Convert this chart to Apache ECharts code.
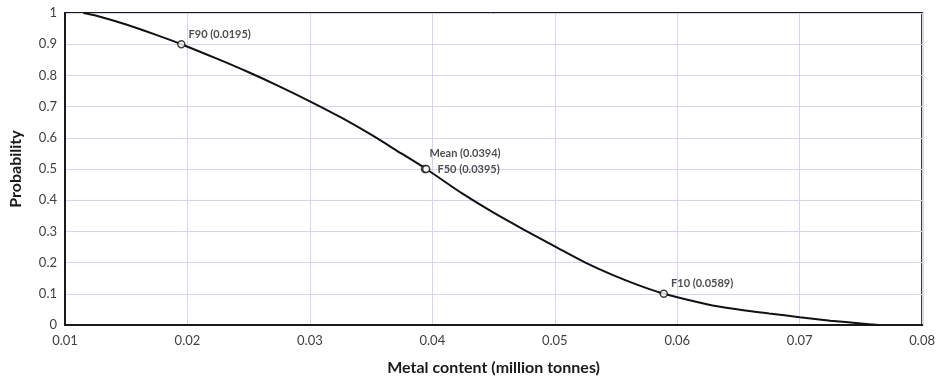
<!DOCTYPE html>
<html><head><meta charset="utf-8">
<script src="https://cdn.jsdelivr.net/npm/echarts@6/dist/echarts.min.js"></script>
<style>html,body{margin:0;padding:0;background:#fff}#c{width:938px;height:383px}</style>
</head><body><div id="c"></div>
<script>
const curveX = [0.0115,0.0125,0.015,0.0175,0.0195,0.0225,0.025,0.0275,0.03,0.0325,0.035,0.0375,0.0395,0.0425,0.045,0.0475,0.05,0.0525,0.055,0.0575,0.0589,0.0625,0.065,0.0675,0.07,0.0725,0.075,0.0765];
const curveY = [1.0,0.992,0.963,0.929,0.9,0.852,0.81,0.765,0.717,0.666,0.61,0.549,0.5,0.42,0.36,0.305,0.252,0.2,0.156,0.118,0.1,0.066,0.05,0.037,0.025,0.014,0.005,0.0];
const pointNames = ['F90','Mean','F50','F10'];
const pointX = [0.0195,0.0394,0.0395,0.0589];
const pointY = [0.9,0.5,0.5,0.1];
const xTicks = [0.01,0.02,0.03,0.04,0.05,0.06,0.07,0.08];
const yTicks = [0,0.1,0.2,0.3,0.4,0.5,0.6,0.7,0.8,0.9,1];

const labelPos = {
  'F90': {position:'right', offset:[-2,-10]},
  'Mean': {position:'top', offset:[40,-1]},
  'F50': {position:'right', offset:[2,0]},
  'F10': {position:'right', offset:[-2,-10]}
};
const font = 'Lato, "Open Sans", sans-serif';
const chart = echarts.init(document.getElementById('c'), null, {renderer:'canvas'});
chart.setOption({
  animation:false,
  backgroundColor:'#ffffff',
  grid:{left:64,right:15,top:13,bottom:58,show:true,borderColor:'#1a1a1a',borderWidth:2,backgroundColor:'transparent'},
  xAxis:{type:'value',min:0.01,max:0.08,interval:0.01,
    name:'Metal content (million tonnes)',nameLocation:'middle',nameGap:35,
    nameTextStyle:{fontFamily:font,fontWeight:'bold',fontSize:16,color:'#1a1a1a'},
    axisLine:{show:true,lineStyle:{color:'#1a1a1a',width:2}},axisTick:{show:false},
    axisLabel:{fontFamily:font,fontSize:13,color:'#404040',margin:9,formatter:v=>{const r=xTicks.find(t=>Math.abs(t-v)<1e-9);return r!==undefined?String(r):'';}},
    splitLine:{show:true,lineStyle:{color:'#d4d4f8',width:1}}},
  yAxis:{type:'value',min:0,max:1,interval:0.1,
    name:'Probability',nameLocation:'middle',nameGap:41,
    nameTextStyle:{fontFamily:font,fontWeight:'bold',fontSize:16,color:'#1a1a1a'},
    axisLine:{show:true,lineStyle:{color:'#1a1a1a',width:2}},axisTick:{show:false},
    axisLabel:{fontFamily:font,fontSize:13,color:'#404040',margin:8,formatter:v=>{const r=yTicks.find(t=>Math.abs(t-v)<1e-9);return r!==undefined?String(r):'';}},
    splitLine:{show:true,lineStyle:{color:'#d4d4f8',width:1}}},
  series:[
    {type:'line',data:curveX.map((x,i)=>[x,curveY[i]]),smooth:0.3,showSymbol:false,
      lineStyle:{color:'#111',width:2},z:3},
    {type:'scatter',symbol:'circle',symbolSize:7,z:5,
      itemStyle:{color:'#fff',borderColor:'#111',borderWidth:1.5},
      data:pointNames.map((n,i)=>({value:[pointX[i],pointY[i]],name:n,
        label:Object.assign({show:true,formatter:n+' ('+pointX[i].toFixed(4)+')',
          fontFamily:font,fontSize:11,fontWeight:'bold',color:'#222'},labelPos[n])}))}
  ]
});
</script></body></html>
